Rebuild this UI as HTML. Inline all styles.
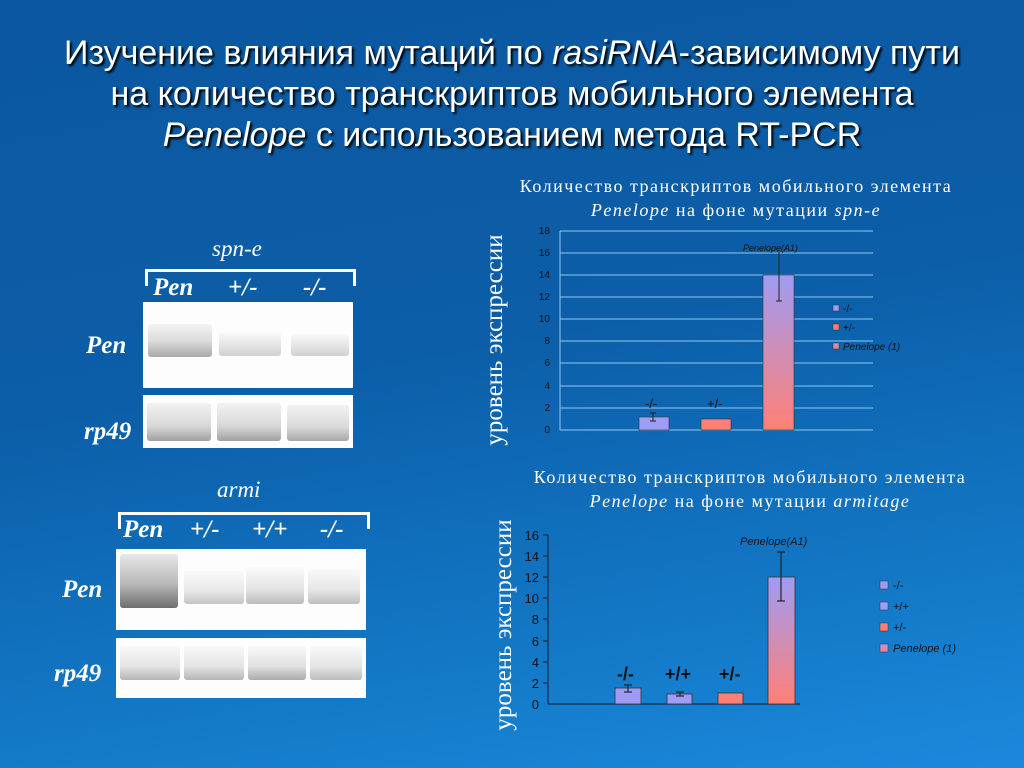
<!DOCTYPE html>
<html><head><meta charset="utf-8"><style>
body{margin:0;width:1024px;height:768px;overflow:hidden;background:linear-gradient(170deg,#0b57a0 0%,#0c5ea8 45%,#137ac8 80%,#1c88dc 100%);font-family:"Liberation Sans",sans-serif;position:relative;color:#fff}
.a{position:absolute}
.t{left:0;width:1024px;text-align:center;font-size:34px;line-height:41px;top:33px;color:#fff;text-shadow:2px 2px 2px #000}
.s{font-family:"Liberation Serif",serif;font-style:italic;font-size:23px}
.b{font-family:"Liberation Serif",serif;font-style:italic;font-weight:bold;font-size:25px}
.gel{background:#fdfdfd}
.band{position:absolute;border-radius:3px}
.ct{font-family:"Liberation Serif",serif;font-size:18px;letter-spacing:1.5px;text-align:center;line-height:24px}
</style></head><body>
<div class="a t">Изучение влияния мутаций по <i>rasiRNA</i>-зависимому пути<br>на количество транскриптов мобильного элемента<br><i>Penelope</i> с использованием метода RT-PCR</div>

<div class="a s" style="left:212px;top:236px">spn-e</div>
<div class="a" style="left:145px;top:269px;width:205px;height:14px;border:3px solid #fff;border-bottom:none"></div>
<div class="a b" style="left:153px;top:274px">Pen</div>
<div class="a b" style="left:228px;top:274px">+/-</div>
<div class="a b" style="left:303px;top:274px">-/-</div>
<div class="a b" style="left:86px;top:332px">Pen</div>
<div class="a b" style="left:84px;top:418px">rp49</div>
<div class="a gel" style="left:143px;top:302px;width:210px;height:86px">
 <div class="band" style="left:5px;top:22px;width:64px;height:33px;background:linear-gradient(#f4f4f4,#dcdcdc 50%,#a9a9a9)"></div>
 <div class="band" style="left:76px;top:30px;width:62px;height:24px;background:linear-gradient(#fafafa,#e6e6e6 50%,#d0d0d0)"></div>
 <div class="band" style="left:148px;top:32px;width:58px;height:22px;background:linear-gradient(#fafafa,#e6e6e6 50%,#d0d0d0)"></div>
</div>
<div class="a gel" style="left:143px;top:395px;width:210px;height:53px">
 <div class="band" style="left:4px;top:8px;width:64px;height:38px;background:linear-gradient(#f2f2f2,#d8d8d8 60%,#a0a0a0)"></div>
 <div class="band" style="left:74px;top:8px;width:64px;height:38px;background:linear-gradient(#f2f2f2,#d8d8d8 60%,#a0a0a0)"></div>
 <div class="band" style="left:144px;top:10px;width:62px;height:36px;background:linear-gradient(#f2f2f2,#dadada 60%,#a8a8a8)"></div>
</div>

<div class="a s" style="left:217px;top:477px">armi</div>
<div class="a" style="left:118px;top:512px;width:246px;height:14px;border:3px solid #fff;border-bottom:none"></div>
<div class="a b" style="left:123px;top:516px">Pen</div>
<div class="a b" style="left:190px;top:516px">+/-</div>
<div class="a b" style="left:252px;top:516px">+/+</div>
<div class="a b" style="left:320px;top:516px">-/-</div>
<div class="a b" style="left:62px;top:576px">Pen</div>
<div class="a b" style="left:54px;top:660px">rp49</div>
<div class="a gel" style="left:116px;top:549px;width:250px;height:81px">
 <div class="band" style="left:4px;top:5px;width:58px;height:54px;background:linear-gradient(#e8e8e8,#b8b8b8 55%,#6e6e6e)"></div>
 <div class="band" style="left:68px;top:22px;width:60px;height:33px;background:linear-gradient(#fafafa,#e8e8e8 60%,#c4c4c4)"></div>
 <div class="band" style="left:130px;top:18px;width:58px;height:37px;background:linear-gradient(#fafafa,#e4e4e4 60%,#bbb)"></div>
 <div class="band" style="left:192px;top:20px;width:52px;height:35px;background:linear-gradient(#fafafa,#e6e6e6 60%,#bebebe)"></div>
</div>
<div class="a gel" style="left:116px;top:638px;width:250px;height:60px">
 <div class="band" style="left:4px;top:8px;width:60px;height:34px;background:linear-gradient(#fafafa,#e4e4e4 60%,#b5b5b5)"></div>
 <div class="band" style="left:68px;top:8px;width:60px;height:34px;background:linear-gradient(#fafafa,#e4e4e4 60%,#b5b5b5)"></div>
 <div class="band" style="left:132px;top:8px;width:58px;height:34px;background:linear-gradient(#fafafa,#e0e0e0 60%,#aaa)"></div>
 <div class="band" style="left:194px;top:8px;width:52px;height:34px;background:linear-gradient(#fafafa,#e4e4e4 60%,#bbb)"></div>
</div>

<div class="a ct" style="left:436px;top:174px;width:600px;left:436px">Количество транскриптов мобильного элемента<br><i>Penelope</i> на фоне мутации <i>spn-e</i></div>
<div class="a ct" style="left:450px;top:465px;width:600px">Количество транскриптов мобильного элемента<br><i>Penelope</i> на фоне мутации <i>armitage</i></div>

<svg class="a" style="left:0;top:0" width="1024" height="768">
<defs>
<linearGradient id="g" x1="0" y1="0" x2="0" y2="1"><stop offset="0" stop-color="#9f9cf4"/><stop offset="1" stop-color="#ff7f76"/></linearGradient>
</defs>
<g font-family="Liberation Serif" font-size="25" fill="#fff">
<text transform="translate(502,340) rotate(-90)" text-anchor="middle">уровень экспрессии</text>
<text transform="translate(511,625) rotate(-90)" text-anchor="middle">уровень экспрессии</text>
</g>
<!-- chart 1 -->
<g stroke="#8fc8f0" stroke-width="1">
<line x1="560" x2="873" y1="231" y2="231"/><line x1="560" x2="873" y1="253" y2="253"/><line x1="560" x2="873" y1="275" y2="275"/><line x1="560" x2="873" y1="297" y2="297"/><line x1="560" x2="873" y1="319" y2="319"/><line x1="560" x2="873" y1="341" y2="341"/><line x1="560" x2="873" y1="363" y2="363"/><line x1="560" x2="873" y1="386" y2="386"/><line x1="560" x2="873" y1="408" y2="408"/><line x1="560" x2="873" y1="430" y2="430"/>
<line x1="560" x2="560" y1="231" y2="430"/>
</g>
<g font-size="10" fill="#111" text-anchor="end">
<text x="550" y="234">18</text><text x="550" y="256">16</text><text x="550" y="278">14</text><text x="550" y="300">12</text><text x="550" y="322">10</text><text x="550" y="344">8</text><text x="550" y="366">6</text><text x="550" y="389">4</text><text x="550" y="411">2</text><text x="550" y="433">0</text>
</g>
<rect x="639" y="417" width="30" height="13" fill="#9e9cf4" stroke="#333" stroke-width="0.6"/>
<rect x="701" y="419" width="30" height="11" fill="#ff7f76" stroke="#333" stroke-width="0.6"/>
<rect x="763" y="275" width="31" height="155" fill="url(#g)" stroke="#333" stroke-width="0.6"/>
<g stroke="#222" stroke-width="1"><line x1="653" x2="653" y1="413" y2="421"/><line x1="650" x2="656" y1="413" y2="413"/><line x1="650" x2="656" y1="421" y2="421"/>
<line x1="779" x2="779" y1="252" y2="301"/><line x1="776" x2="782" y1="301" y2="301"/></g>
<g font-size="13" fill="#111"><text x="645" y="408">-/-</text><text x="707" y="408">+/-</text></g>
<text x="743" y="251" font-size="9" font-style="italic" fill="#111">Penelope(A1)</text>
<rect x="833" y="305" width="6" height="6" fill="#9e9cf4" stroke="#333" stroke-width="0.5"/>
<rect x="833" y="324" width="6" height="6" fill="#ff7f76" stroke="#333" stroke-width="0.5"/>
<rect x="833" y="343" width="6" height="6" fill="url(#g)" stroke="#333" stroke-width="0.5"/>
<g font-size="10" fill="#111"><text x="843" y="312">-/-</text><text x="843" y="331">+/-</text><text x="843" y="350" font-style="italic">Penelope (1)</text></g>
<!-- chart 2 -->
<g stroke="#1a2a40" stroke-width="1.2"><line x1="548" x2="548" y1="535" y2="704"/><line x1="548" x2="800" y1="704" y2="704"/>
<line x1="543" x2="548" y1="535" y2="535"/><line x1="543" x2="548" y1="556" y2="556"/><line x1="543" x2="548" y1="577" y2="577"/><line x1="543" x2="548" y1="598" y2="598"/><line x1="543" x2="548" y1="619" y2="619"/><line x1="543" x2="548" y1="641" y2="641"/><line x1="543" x2="548" y1="662" y2="662"/><line x1="543" x2="548" y1="683" y2="683"/></g>
<g font-size="13" fill="#111" text-anchor="end">
<text x="539" y="540">16</text><text x="539" y="561">14</text><text x="539" y="582">12</text><text x="539" y="603">10</text><text x="539" y="624">8</text><text x="539" y="646">6</text><text x="539" y="667">4</text><text x="539" y="688">2</text><text x="539" y="709">0</text>
</g>
<rect x="615" y="688" width="26" height="16" fill="#9e9cf4" stroke="#333" stroke-width="0.8"/>
<rect x="667" y="694" width="25" height="10" fill="#9e9cf4" stroke="#333" stroke-width="0.8"/>
<rect x="718" y="693" width="25" height="11" fill="#ff7f76" stroke="#333" stroke-width="0.8"/>
<rect x="768" y="577" width="27" height="127" fill="url(#g)" stroke="#333" stroke-width="0.8"/>
<g stroke="#222" stroke-width="1.2"><line x1="628" x2="628" y1="685" y2="692"/><line x1="624" x2="632" y1="685" y2="685"/><line x1="624" x2="632" y1="692" y2="692"/>
<line x1="680" x2="680" y1="692" y2="696"/><line x1="676" x2="684" y1="692" y2="692"/><line x1="676" x2="684" y1="696" y2="696"/>
<line x1="781" x2="781" y1="552" y2="601"/><line x1="777" x2="785" y1="552" y2="552"/><line x1="777" x2="785" y1="601" y2="601"/></g>
<g font-size="18" font-weight="bold" fill="#111"><text x="617" y="680">-/-</text><text x="665" y="680">+/+</text><text x="719" y="680">+/-</text></g>
<text x="740" y="545" font-size="11" font-style="italic" fill="#111">Penelope(A1)</text>
<rect x="880" y="581" width="8" height="8" fill="#9e9cf4" stroke="#333" stroke-width="0.5"/>
<rect x="880" y="602" width="8" height="8" fill="#9e9cf4" stroke="#333" stroke-width="0.5"/>
<rect x="880" y="623" width="8" height="8" fill="#ff7f76" stroke="#333" stroke-width="0.5"/>
<rect x="880" y="644" width="8" height="8" fill="url(#g)" stroke="#333" stroke-width="0.5"/>
<g font-size="11" fill="#111"><text x="893" y="589">-/-</text><text x="893" y="610">+/+</text><text x="893" y="631">+/-</text><text x="893" y="652" font-style="italic">Penelope (1)</text></g>
</svg>
</body></html>
